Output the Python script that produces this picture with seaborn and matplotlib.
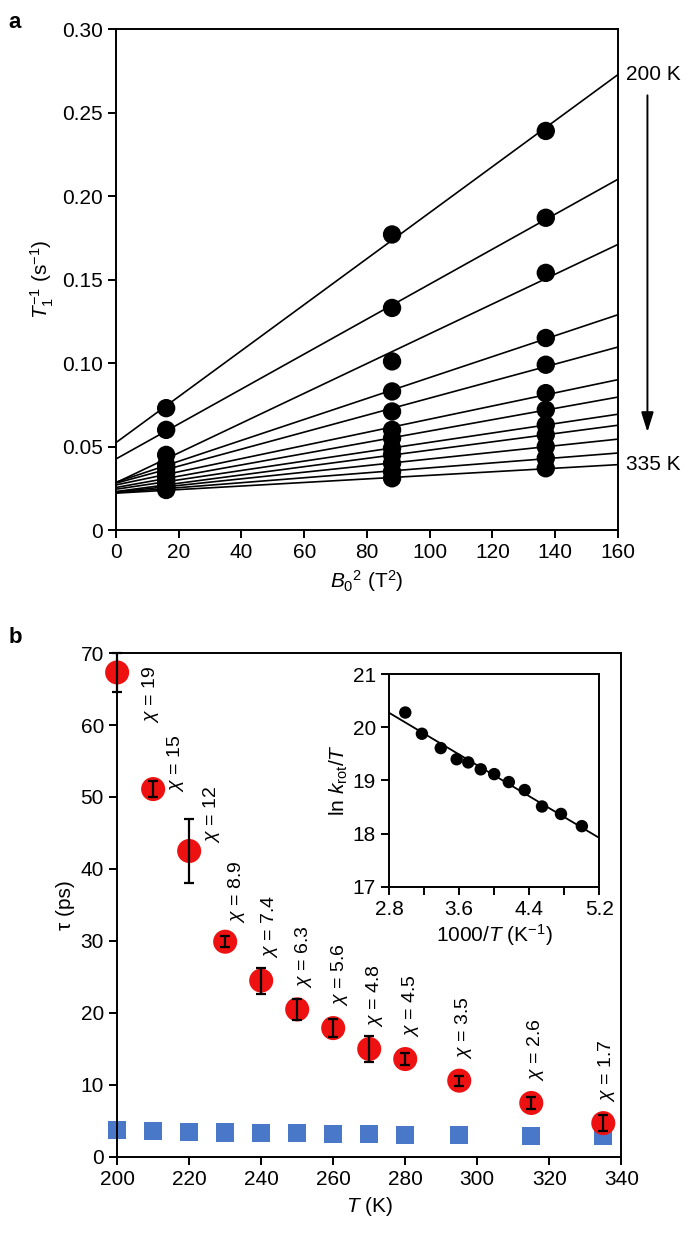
import numpy as np
import pandas as pd
import matplotlib
matplotlib.use("Agg")
import matplotlib.pyplot as plt
import seaborn as sns
from matplotlib.ticker import FuncFormatter

# panel a: relaxation rate vs field squared, one series per temperature
B0_SQ = [16, 88, 137]
RATE_16 = [0.073, 0.060, 0.045, 0.039, 0.037, 0.034, 0.031, 0.029, 0.027, 0.026, 0.025, 0.024]
RATE_88 = [0.177, 0.133, 0.101, 0.083, 0.071, 0.060, 0.055, 0.049, 0.045, 0.040, 0.035, 0.031]
RATE_137 = [0.239, 0.187, 0.154, 0.115, 0.099, 0.082, 0.072, 0.063, 0.057, 0.050, 0.043, 0.037]

# panel b: correlation times
TEMPS = [200, 210, 220, 230, 240, 250, 260, 270, 280, 295, 315, 335]
TAU_RED = [67.3, 51.1, 42.5, 29.9, 24.5, 20.5, 17.9, 15.0, 13.6, 10.6, 7.5, 4.7]
TAU_RED_ERR = [2.7, 1.1, 4.5, 0.8, 1.8, 1.5, 1.2, 1.8, 0.8, 0.7, 0.8, 1.1]
TAU_BLUE = [3.8, 3.6, 3.5, 3.4, 3.3, 3.3, 3.2, 3.2, 3.0, 3.0, 2.9, 2.9]
CHI = ["19", "15", "12", "8.9", "7.4", "6.3", "5.6", "4.8", "4.5", "3.5", "2.6", "1.7"]

# inset: ln(k_rot/T), same temperature order
LN_K_T = [18.14, 18.37, 18.51, 18.82, 18.97, 19.12, 19.21, 19.34, 19.40, 19.61, 19.88, 20.28]

# label placement for the chi annotations (offsets from each point, data units)
CHI_DX = [9.4, 6.3, 6.3, 3.1, 2.4, 1.8, 1.8, 1.5, 1.5, 1.3, 1.2, 1.0]
CHI_DY = [-7.0, -0.4, 1.1, 2.6, 3.1, 3.0, 3.0, 3.0, 3.0, 3.0, 3.0, 3.0]

RED = "#ee1111"
BLUE = "#4a78c8"

sns.set_theme(style="ticks")
plt.rcParams["font.family"] = ["Liberation Sans", "DejaVu Sans"]
plt.rcParams.update({
    "mathtext.fontset": "custom",
    "mathtext.rm": "Liberation Sans",
    "mathtext.it": "Liberation Sans:italic",
    "mathtext.bf": "Liberation Sans:bold",
    "font.size": 15,
    "axes.labelsize": 15,
    "xtick.labelsize": 15,
    "ytick.labelsize": 15,
    "axes.linewidth": 1.4,
    "axes.edgecolor": "black",
    "axes.labelcolor": "black",
    "text.color": "black",
    "xtick.color": "black",
    "ytick.color": "black",
    "xtick.major.size": 6,
    "ytick.major.size": 6,
    "xtick.major.width": 1.4,
    "ytick.major.width": 1.4,
    "xtick.direction": "out",
    "ytick.direction": "out",
})

fig = plt.figure(figsize=(6.85, 12.37), dpi=100)

# ---- panel a ----
ax_a = fig.add_axes([0.1693, 0.5715, 0.7328, 0.405])
rates = np.array([RATE_16, RATE_88, RATE_137]).T
df_a = pd.DataFrame({
    "B2": np.tile(B0_SQ, len(TEMPS)),
    "rate": rates.ravel(),
    "T": np.repeat(TEMPS, len(B0_SQ)),
})
xfit = np.array([0, 160])
for t, grp in df_a.groupby("T"):
    slope, icpt = np.polyfit(grp["B2"], grp["rate"], 1)
    ax_a.plot(xfit, icpt + slope * xfit, color="black", lw=1.2, zorder=2)
sns.scatterplot(data=df_a, x="B2", y="rate", color="black", s=175,
                edgecolor="none", ax=ax_a, zorder=3, legend=False)
ax_a.set_xlim(0, 160)
ax_a.set_ylim(0, 0.30)
ax_a.set_xticks(np.arange(0, 161, 20))
ax_a.set_yticks(np.arange(0, 0.301, 0.05))
ax_a.yaxis.set_major_formatter(FuncFormatter(lambda v, p: "0" if abs(v) < 1e-9 else f"{v:.2f}"))
ax_a.set_xlabel(r"$B_0{}^2$ (T$^2$)")
ax_a.set_ylabel(r"$T_1^{-1}$ (s$^{-1}$)")
ax_a.text(162.5, 0.273, "200 K", va="center", ha="left", fontsize=15, clip_on=False)
ax_a.text(162.5, 0.039, "335 K", va="center", ha="left", fontsize=15, clip_on=False)
ax_a.annotate("", xy=(169.4, 0.057), xytext=(169.4, 0.262),
              xycoords="data", annotation_clip=False,
              arrowprops=dict(arrowstyle="-|>,head_length=0.8,head_width=0.25",
                              color="black", lw=1.4))

# ---- panel b ----
ax_b = fig.add_axes([0.171, 0.0647, 0.736, 0.4074])
df_b = pd.DataFrame({"T": TEMPS, "tau": TAU_RED, "err": TAU_RED_ERR, "fast": TAU_BLUE})
sns.scatterplot(data=df_b, x="T", y="fast", marker="s", color=BLUE, s=170,
                edgecolor="none", ax=ax_b, zorder=2, legend=False, clip_on=False)
sns.scatterplot(data=df_b, x="T", y="tau", color=RED, s=300,
                edgecolor="none", ax=ax_b, zorder=3, legend=False, clip_on=False)
ax_b.errorbar(df_b["T"], df_b["tau"], yerr=df_b["err"], fmt="none", ecolor="black",
              elinewidth=1.6, capsize=3.5, capthick=1.6, zorder=4, clip_on=False)
for t, tau, chi, dx, dy in zip(TEMPS, TAU_RED, CHI, CHI_DX, CHI_DY):
    ax_b.text(t + dx, tau + dy, rf"$\chi$ = {chi}", rotation=90, ha="center", va="bottom",
              fontsize=14, zorder=5)
ax_b.set_xlim(200, 340)
ax_b.set_ylim(0, 70)
ax_b.set_xticks(np.arange(200, 341, 20))
ax_b.set_yticks(np.arange(0, 71, 10))
ax_b.set_xlabel(r"$T$ (K)")
ax_b.set_ylabel("τ (ps)")

# ---- inset ----
ax_i = fig.add_axes([0.568, 0.2832, 0.307, 0.1717])
inv_t = 1000.0 / np.array(TEMPS)
df_i = pd.DataFrame({"invT": inv_t, "lnk": LN_K_T})
slope, icpt = np.polyfit(df_i["invT"], df_i["lnk"], 1)
xl = np.array([2.8, 5.2])
ax_i.plot(xl, icpt + slope * xl, color="black", lw=1.3, zorder=2)
sns.scatterplot(data=df_i, x="invT", y="lnk", color="black", s=80,
                edgecolor="none", ax=ax_i, zorder=3, legend=False)
ax_i.set_xlim(2.8, 5.2)
ax_i.set_ylim(17, 21)
ticks = np.arange(2.8, 5.21, 0.4)
ax_i.set_xticks(ticks)
ax_i.set_xticklabels([f"{v:.1f}" if i % 2 == 0 else "" for i, v in enumerate(ticks)])
ax_i.set_yticks(np.arange(17, 22, 1))
ax_i.set_xlabel(r"1000/$T$ (K$^{-1}$)", labelpad=2)
ax_i.set_ylabel(r"ln $k_{\mathrm{rot}}$/$T$", labelpad=2)

fig.text(0.012, 0.990, "a", fontsize=16, fontweight="bold", va="top")
fig.text(0.012, 0.493, "b", fontsize=16, fontweight="bold", va="top")

fig.savefig("out.png", dpi=100)
